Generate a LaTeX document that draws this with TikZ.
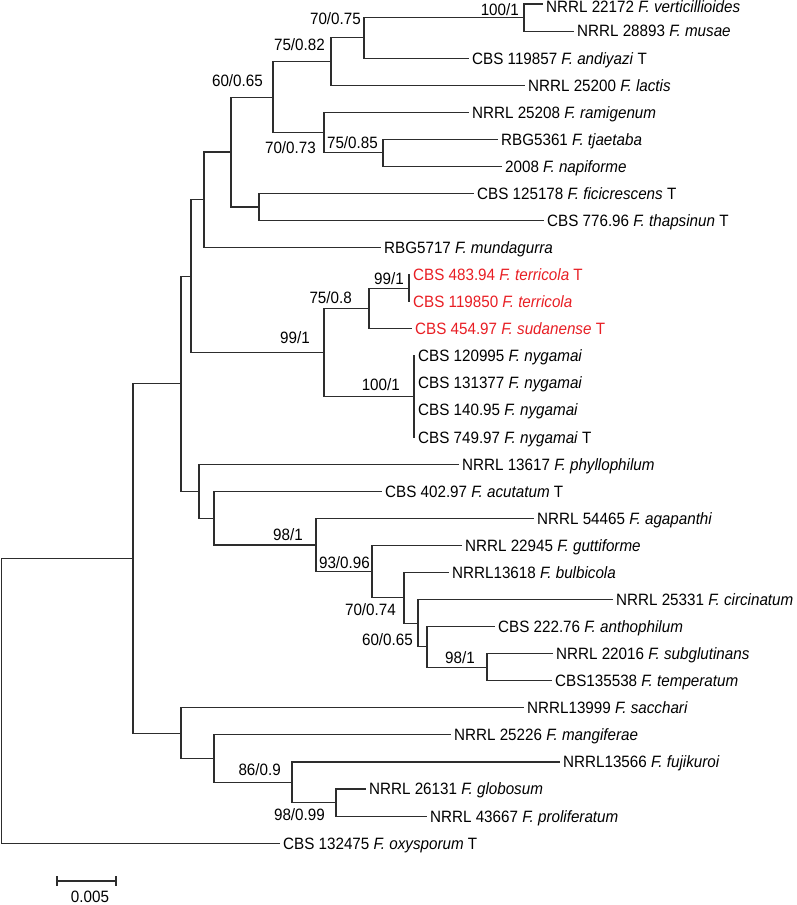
\documentclass[tikz,border=0pt]{standalone}
\usepackage{fontspec}
\setmainfont{Liberation Sans}
\usepackage{graphicx}
\definecolor{lin}{RGB}{45,45,45}
\definecolor{hl}{RGB}{232,30,36}
\newcommand\treefont{\fontsize{15.2}{18}\selectfont}
\newcommand\sx[1]{\scalebox{1}[1.08]{#1}}
\begin{document}
\begin{tikzpicture}[x=1pt,y=-1pt,
  br/.style={draw=lin,line width=1.1pt,line cap=rect},
  taxon/.style={anchor=west,inner sep=0pt,xshift=4pt,text height=11.8pt,text depth=0pt,font=\treefont},
  redtaxon/.style={taxon,text=hl},
  supp/.style={anchor=east,inner sep=0pt,text height=11.8pt,text depth=0pt,font=\treefont},
]
\useasboundingbox (0,0) rectangle (796,905);
% leaf end points
\coordinate (l1) at (542,4.00);
\coordinate (l2) at (573,31.07);
\coordinate (l3) at (468,58.14);
\coordinate (l4) at (524,85.21);
\coordinate (l5) at (468,112.28);
\coordinate (l6) at (497,139.35);
\coordinate (l7) at (501,166.42);
\coordinate (l8) at (473,193.49);
\coordinate (l9) at (543,220.56);
\coordinate (l10) at (380,247.63);
\coordinate (l11) at (409,274.70);
\coordinate (l12) at (409,301.77);
\coordinate (l13) at (411,328.84);
\coordinate (l14) at (414,355.91);
\coordinate (l15) at (414,382.98);
\coordinate (l16) at (414,410.05);
\coordinate (l17) at (414,437.12);
\coordinate (l18) at (458,464.19);
\coordinate (l19) at (381,491.26);
\coordinate (l20) at (533,518.33);
\coordinate (l21) at (461,545.40);
\coordinate (l22) at (448,572.47);
\coordinate (l23) at (612,599.54);
\coordinate (l24) at (494,626.61);
\coordinate (l25) at (552,653.68);
\coordinate (l26) at (551,680.75);
\coordinate (l27) at (523,707.82);
\coordinate (l28) at (450,734.89);
\coordinate (l29) at (559,761.96);
\coordinate (l30) at (365,789.03);
\coordinate (l31) at (426,816.10);
\coordinate (l32) at (279,843.17);
% internal nodes
\coordinate (nA) at (524,17.535);
\coordinate (nB) at (364,37.84);
\coordinate (nC) at (331,61.52);
\coordinate (nD) at (273,97.05);
\coordinate (nE) at (324,132.58);
\coordinate (nF) at (383,152.885);
\coordinate (nG) at (231,152.04);
\coordinate (nH) at (259,207.03);
\coordinate (nI) at (204,199.83);
\coordinate (nJ) at (191,276.18);
\coordinate (nK) at (324,352.53);
\coordinate (nL) at (369,308.54);
\coordinate (nN) at (409,288.24);
\coordinate (nM) at (414,396.52);
\coordinate (nO) at (181,383.67);
\coordinate (nP) at (199,491.16);
\coordinate (nQ) at (214,518.12);
\coordinate (nR) at (316,544.98);
\coordinate (nS) at (372,571.62);
\coordinate (nT) at (404,597.85);
\coordinate (nU) at (418,623.23);
\coordinate (nV) at (427,646.91);
\coordinate (nW) at (487,667.22);
\coordinate (nX) at (336,802.57);
\coordinate (nBB) at (292,782.26);
\coordinate (nAA) at (214,758.58);
\coordinate (nY) at (181,733.20);
\coordinate (nZ) at (133,558.44);
\coordinate (root) at (1.6,700.8);
% branches
\foreach \p/\c in {nA/l1,nA/l2,nB/nA,nB/l3,nC/nB,nC/l4,nD/nC,nD/nE,nE/l5,nE/nF,nF/l6,nF/l7,
  nG/nD,nG/nH,nH/l8,nH/l9,nI/nG,nI/l10,nJ/nI,nJ/nK,nK/nL,nK/nM,nL/nN,nL/l13,nN/l11,nN/l12,
  nM/l14,nM/l15,nM/l16,nM/l17,nO/nJ,nO/nP,nP/l18,nP/nQ,nQ/l19,nQ/nR,nR/l20,nR/nS,nS/l21,nS/nT,
  nT/l22,nT/nU,nU/l23,nU/nV,nV/l24,nV/nW,nW/l25,nW/l26,nZ/nO,nZ/nY,nY/l27,nY/nAA,nAA/l28,nAA/nBB,
  nBB/l29,nBB/nX,nX/l30,nX/l31,root/nZ,root/l32}
  \draw[br] (\p) |- (\c);
% taxon labels
\node[taxon,yshift=-2.5pt] (t1) at (l1) {\sx{NRRL 22172 \textit{F. verticillioides}}};
\node[taxon] (t2) at (l2) {\sx{NRRL 28893 \textit{F. musae}}};
\node[taxon] (t3) at (l3) {\sx{CBS 119857 \textit{F. andiyazi} T}};
\node[taxon] (t4) at (l4) {\sx{NRRL 25200 \textit{F. lactis}}};
\node[taxon] (t5) at (l5) {\sx{NRRL 25208 \textit{F. ramigenum}}};
\node[taxon] (t6) at (l6) {\sx{RBG5361 \textit{F. tjaetaba}}};
\node[taxon] (t7) at (l7) {\sx{2008 \textit{F. napiforme}}};
\node[taxon] (t8) at (l8) {\sx{CBS 125178 \textit{F. ficicrescens} T}};
\node[taxon] (t9) at (l9) {\sx{CBS 776.96 \textit{F. thapsinun} T}};
\node[taxon] (t10) at (l10) {\sx{RBG5717 \textit{F. mundagurra}}};
\node[redtaxon] (t11) at (l11) {\sx{CBS 483.94 \textit{F. terricola} T}};
\node[redtaxon] (t12) at (l12) {\sx{CBS 119850 \textit{F. terricola}}};
\node[redtaxon] (t13) at (l13) {\sx{CBS 454.97 \textit{F. sudanense} T}};
\node[taxon] (t14) at (l14) {\sx{CBS 120995 \textit{F. nygamai}}};
\node[taxon] (t15) at (l15) {\sx{CBS 131377 \textit{F. nygamai}}};
\node[taxon] (t16) at (l16) {\sx{CBS 140.95 \textit{F. nygamai}}};
\node[taxon] (t17) at (l17) {\sx{CBS 749.97 \textit{F. nygamai} T}};
\node[taxon] (t18) at (l18) {\sx{NRRL 13617 \textit{F. phyllophilum}}};
\node[taxon] (t19) at (l19) {\sx{CBS 402.97 \textit{F. acutatum} T}};
\node[taxon] (t20) at (l20) {\sx{NRRL 54465 \textit{F. agapanthi}}};
\node[taxon] (t21) at (l21) {\sx{NRRL 22945 \textit{F. guttiforme}}};
\node[taxon] (t22) at (l22) {\sx{NRRL13618 \textit{F. bulbicola}}};
\node[taxon] (t23) at (l23) {\sx{NRRL 25331 \textit{F. circinatum}}};
\node[taxon] (t24) at (l24) {\sx{CBS 222.76 \textit{F. anthophilum}}};
\node[taxon] (t25) at (l25) {\sx{NRRL 22016 \textit{F. subglutinans}}};
\node[taxon] (t26) at (l26) {\sx{CBS135538 \textit{F. temperatum}}};
\node[taxon] (t27) at (l27) {\sx{NRRL13999 \textit{F. sacchari}}};
\node[taxon] (t28) at (l28) {\sx{NRRL 25226 \textit{F. mangiferae}}};
\node[taxon] (t29) at (l29) {\sx{NRRL13566 \textit{F. fujikuroi}}};
\node[taxon] (t30) at (l30) {\sx{NRRL 26131 \textit{F. globosum}}};
\node[taxon] (t31) at (l31) {\sx{NRRL 43667 \textit{F. proliferatum}}};
\node[taxon] (t32) at (l32) {\sx{CBS 132475 \textit{F. oxysporum} T}};
% support values
\node[supp] (sA) at (519,10) {\sx{100/1}};
\node[supp] (sB) at (361,19) {\sx{70/0.75}};
\node[supp] (sC) at (325,45) {\sx{75/0.82}};
\node[supp] (sD) at (263,81) {\sx{60/0.65}};
\node[supp] (sE) at (316,148) {\sx{70/0.73}};
\node[supp] (sF) at (378,143) {\sx{75/0.85}};
\node[supp] (sN) at (404,279) {\sx{99/1}};
\node[supp] (sL) at (352,298) {\sx{75/0.8}};
\node[supp] (sK) at (310,338) {\sx{99/1}};
\node[supp] (sM) at (400,385) {\sx{100/1}};
\node[supp] (sR) at (303,535) {\sx{98/1}};
\node[supp] (sS) at (370,563) {\sx{93/0.96}};
\node[supp] (sT) at (396,610) {\sx{70/0.74}};
\node[supp] (sU) at (413,640) {\sx{60/0.65}};
\node[supp] (sW) at (475,658) {\sx{98/1}};
\node[supp] (sBB) at (281,770) {\sx{86/0.9}};
\node[supp] (sX) at (325,815) {\sx{98/0.99}};
% scale bar
\coordinate (sb1) at (57,881);
\coordinate (sb2) at (116,881);
\draw[br] (sb1) -- (sb2);
\draw[br] ([yshift=-4.5pt]sb1) -- ([yshift=4.5pt]sb1);
\draw[br] ([yshift=-4.5pt]sb2) -- ([yshift=4.5pt]sb2);
\node[inner sep=0pt,text height=11.8pt,text depth=0pt,font=\treefont] (sbl) at (90,897) {\sx{0.005}};
\end{tikzpicture}
\end{document}
